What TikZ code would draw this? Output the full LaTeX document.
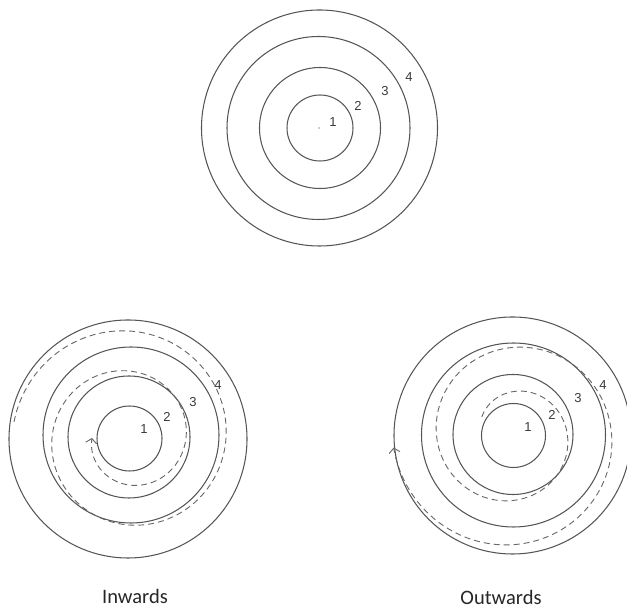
\documentclass[tikz,border=0pt]{standalone}
\usepackage{fontspec}
\setmainfont{Carlito}
\newfontfamily\digitfont{Liberation Sans}
\usetikzlibrary{arrows.meta}
\definecolor{ringgray}{HTML}{555555}
\definecolor{dashgray}{HTML}{666666}
\definecolor{numgray}{HTML}{3A3A3A}
\begin{document}
\begin{tikzpicture}[x=1pt,y=1pt,
  ring/.style={draw=ringgray, line width=1.05pt},
  spiralline/.style={draw=dashgray, line width=0.9pt, dash pattern=on 6pt off 4pt},
  tip/.style={-{Straight Barb[length=4.5pt,width=11pt,line width=0.9pt]}},
  num/.style={font=\digitfont\fontsize{13}{13}\selectfont, text=numgray, inner sep=0pt},
  caption/.style={font=\fontsize{20.5}{24}\selectfont, text=black!85, anchor=base, inner sep=0pt}]
\useasboundingbox (0,0) rectangle (627,610);

% ---------- top target ----------
\coordinate (T) at (320,482);
\draw[ring] (T) circle[radius=33];
\draw[ring] (T) circle[radius=60.5];
\draw[ring] (318.5,482) circle[radius=91.5];
\draw[ring] (319.5,482) circle[radius=118];
\fill[black!40] (319,482) circle[radius=0.8];
\node[num] (t1) at (333,488) {1};
\node[num] (t2) at (358,504) {2};
\node[num] (t3) at (385,519) {3};
\node[num] (t4) at (409,533) {4};

% ---------- bottom left: inwards ----------
\coordinate (L) at (129,172);
\draw[ring] (129.5,171.5) circle[radius=32.5];
\draw[ring] (129,173) circle[radius=61];
\draw[ring] (131,175) circle[radius=88];
\draw[ring] (128,171) circle[radius=119];
\draw[spiralline, tip] plot[domain=0:712, samples=360, smooth, variable=\t]
  ({129+(37+(712-\t)/9)*cos(172-\t)}, {172+(37+(712-\t)/9)*sin(172-\t)});
\node[num] (l1) at (144,181) {1};
\node[num] (l2) at (167,193) {2};
\node[num] (l3) at (193,208) {3};
\node[num] (l4) at (218,225) {4};
\node[caption] (inw) at (135,6) {Inwards};

% ---------- bottom right: outwards ----------
\coordinate (R) at (513,175);
\draw[ring] (513.5,174.5) circle[radius=32];
\draw[ring] (513,175.5) circle[radius=60];
\draw[ring] (513.5,175) circle[radius=92];
\draw[ring] (512.5,174.5) circle[radius=118.5];
\draw[spiralline, tip] plot[domain=0:684, samples=360, smooth, variable=\t]
  ({513+(36+\t*0.1228)*cos(150-\t)}, {175+(36+\t*0.1228)*sin(150-\t)});
\node[num] (r1) at (528,183) {1};
\node[num] (r2) at (552,195) {2};
\node[num] (r3) at (578,212) {3};
\node[num] (r4) at (603,225) {4};
\node[caption] (outw) at (501,5) {Outwards};
\end{tikzpicture}
\end{document}
